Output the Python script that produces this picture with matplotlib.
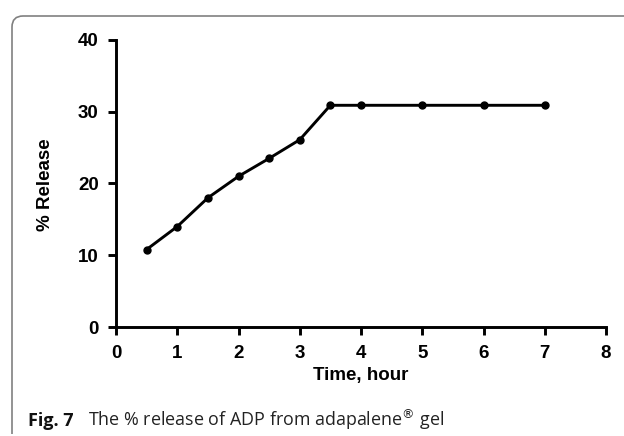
import matplotlib.pyplot as plt
from matplotlib.path import Path
from matplotlib.patches import PathPatch

# release data
time_h = [0.5, 1, 1.5, 2, 2.5, 3, 3.5, 4, 5, 6, 7]
release = [10.8, 14.0, 18.0, 21.0, 23.5, 26.1, 30.9, 30.9, 30.9, 30.9, 30.9]
x_ticks = [0, 1, 2, 3, 4, 5, 6, 7, 8]
y_ticks = [0, 10, 20, 30, 40]

W, H = 624, 436
fig = plt.figure(figsize=(W / 100, H / 100), dpi=100)

# axes placed in pixel terms
left, right, top, bottom = 116, 606, 40, 327
ax = fig.add_axes([left / W, 1 - bottom / H, (right - left) / W, (bottom - top) / H])

ax.plot(time_h, release, color='black', lw=2.1, marker='o', ms=5, clip_on=False)
ax.set_xlim(0, 8)
ax.set_ylim(0, 40)
ax.set_xticks(x_ticks)
ax.set_yticks(y_ticks)
for s in ['top', 'right']:
    ax.spines[s].set_visible(False)
for s in ['left', 'bottom']:
    ax.spines[s].set_linewidth(2.1)
ax.tick_params(direction='out', length=6, width=2.1, labelsize=13.5)
ax.tick_params(axis='x', pad=7)
ax.tick_params(axis='y', pad=6.5)
for lab in ax.get_xticklabels() + ax.get_yticklabels():
    lab.set_fontfamily('Liberation Sans')
    lab.set_fontweight('bold')

ax.set_xlabel('Time, hour', fontsize=13.5, fontweight='bold', family='Liberation Sans', va='center')
ax.set_ylabel('% Release', fontsize=13.5, fontweight='bold', family='Liberation Sans', va='center')
ax.xaxis.set_label_coords((361 - left) / (right - left), (bottom - 375) / (bottom - top))
ax.yaxis.set_label_coords((46 - left) / (right - left), (bottom - 185) / (bottom - top))

# figure frame: top and left edge with rounded corner
def fx(px):
    return px / W

def fy(py):
    return 1 - py / H

verts = [(fx(12), fy(434)), (fx(12), fy(27)), (fx(12), fy(16)), (fx(23), fy(16)), (fx(624), fy(16))]
codes = [Path.MOVETO, Path.LINETO, Path.CURVE3, Path.CURVE3, Path.LINETO]
fig.add_artist(PathPatch(Path(verts, codes), fill=False, edgecolor='#808080', lw=1.2,
                         transform=fig.transFigure))

# caption
fig.text(fx(28), fy(426), 'Fig. 7', fontsize=13, fontweight='bold', family='Open Sans',
         va='baseline', ha='left', color='#111111')
fig.text(fx(88), fy(426), 'The % release of ADP from adapalene$^{\\circledR}$ gel', fontsize=12.9,
         family='Open Sans', va='baseline', ha='left', color='#222222')

fig.savefig('out.png', dpi=100)
